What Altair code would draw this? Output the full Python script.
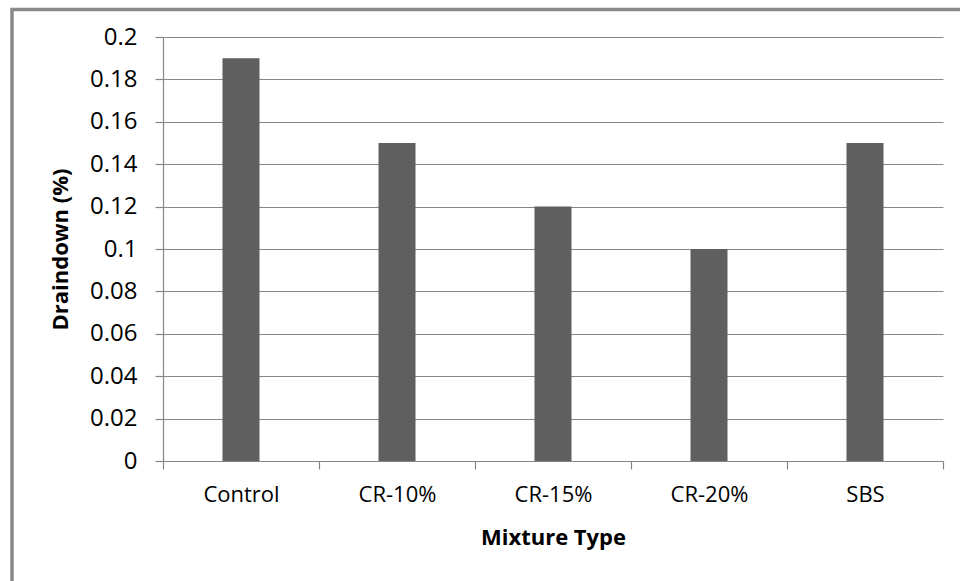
import altair as alt
import pandas as pd

# Draindown results per mixture type
mixtures = ["Control", "CR-10%", "CR-15%", "CR-20%", "SBS"]
draindown = [0.19, 0.15, 0.12, 0.10, 0.15]
y_ticks = [0, 0.02, 0.04, 0.06, 0.08, 0.1, 0.12, 0.14, 0.16, 0.18, 0.2]

df = pd.DataFrame({"Mixture": mixtures, "Draindown": draindown})

FONT = "Open Sans"
GRID = "#868686"

# outer frame of the chart area
frame = alt.Chart(pd.DataFrame({"k": [0]})).mark_rect(
    fill=None, stroke="#8a8a8a", strokeWidth=3.5
).encode(
    x=alt.value(-151), x2=alt.value(900),
    y=alt.value(-27.5), y2=alt.value(700),
)

bars = alt.Chart(df).mark_bar(size=37, color="#5f5f5f").encode(
    x=alt.X(
        "Mixture:N",
        sort=mixtures,
        scale=alt.Scale(paddingInner=0, paddingOuter=0),
        axis=alt.Axis(
            title="Mixture Type",
            labelAngle=0,
            labelFontSize=22,
            tickBand="extent",
            tickSize=8,
            tickColor=GRID,
            domainColor=GRID,
            labelPadding=15,
            titlePadding=22,
            grid=False,
        ),
    ),
    y=alt.Y(
        "Draindown:Q",
        scale=alt.Scale(domain=[0, 0.2], nice=False),
        axis=alt.Axis(
            title="Draindown (%)",
            values=y_ticks,
            format="~g",
            labelFontSize=24,
            tickSize=8,
            tickColor=GRID,
            domainColor=GRID,
            gridColor=GRID,
            labelPadding=18,
            titlePadding=17,
        ),
    ),
)

chart = alt.layer(frame, bars).properties(
    width=780,
    height=424,
    background="white",
    padding={"left": 163, "top": 37, "right": 17, "bottom": 120},
    autosize=alt.AutoSizeParams(type="none"),
).configure_view(
    stroke=None
).configure_axis(
    labelFont=FONT,
    titleFont=FONT,
    titleFontSize=22,
    labelColor="black",
    titleColor="black",
    titleFontWeight="bold",
    gridWidth=1,
    domainWidth=1.2,
    tickWidth=1.2,
)

chart.save("out.html", embed_options={"renderer": "svg", "actions": False})
